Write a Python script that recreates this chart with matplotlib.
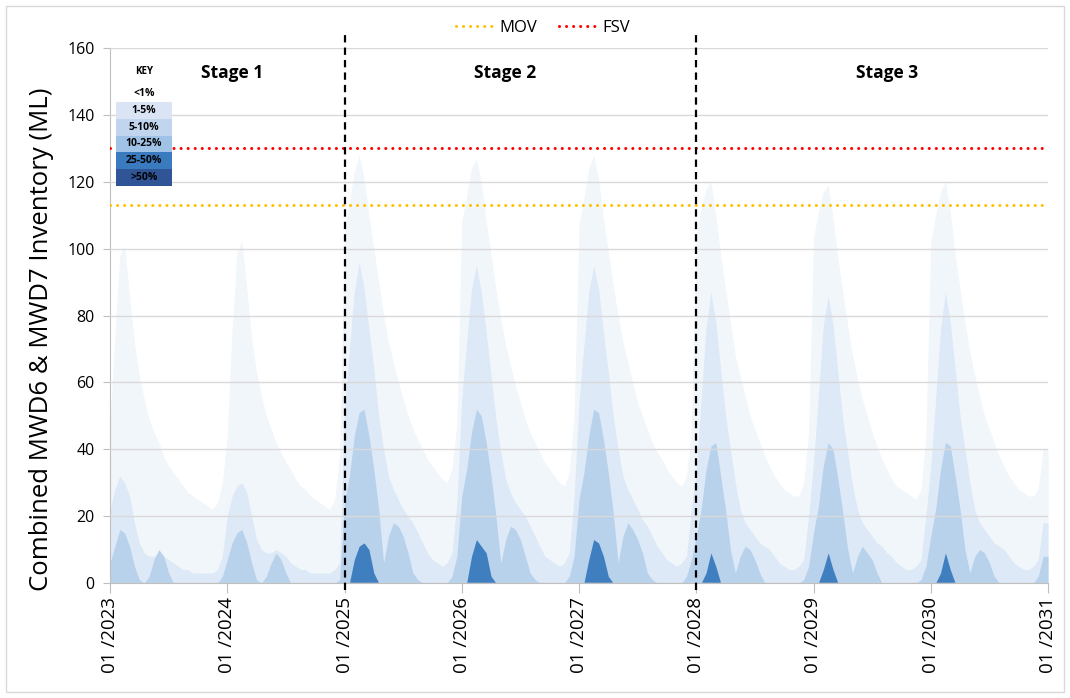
import numpy as np
import matplotlib
matplotlib.use("Agg")
import matplotlib.pyplot as plt
from matplotlib.patches import Rectangle

plt.rcParams['font.family'] = ['Open Sans', 'DejaVu Sans']

years = [2023, 2024, 2025, 2026, 2027, 2028, 2029, 2030]
steps = 24  # half-month samples per year

# upper edge of each probability band (ML), one row per year
inv_1_5 = [
    [48, 74, 98, 101, 86, 72, 62, 55, 49, 45, 42, 38, 35, 33, 31, 29, 27, 26, 25, 24, 23, 22, 24, 30],
    [44, 76, 99, 102, 88, 73, 63, 56, 50, 46, 42, 39, 36, 34, 31, 29, 28, 26, 25, 24, 23, 22, 25, 38],
    [105, 114, 123, 128, 121, 110, 100, 90, 80, 72, 66, 60, 55, 50, 46, 43, 40, 37, 35, 33, 31, 30, 34, 48],
    [108, 116, 124, 127, 120, 108, 98, 88, 79, 71, 65, 59, 54, 49, 45, 42, 39, 36, 34, 32, 30, 29, 33, 50],
    [107, 115, 124, 128, 121, 109, 99, 89, 80, 72, 66, 60, 54, 50, 46, 42, 39, 37, 34, 32, 30, 29, 32, 46],
    [104, 112, 118, 120, 110, 98, 88, 78, 68, 62, 56, 50, 46, 42, 38, 35, 32, 30, 28, 27, 26, 26, 30, 45],
    [103, 111, 117, 119, 109, 97, 87, 77, 68, 61, 55, 50, 45, 41, 37, 34, 31, 29, 28, 27, 26, 25, 28, 44],
    [102, 110, 117, 120, 111, 98, 88, 78, 69, 62, 56, 50, 46, 42, 38, 35, 32, 30, 28, 27, 26, 26, 28, 40],
]
inv_5_10 = [
    [22, 28, 32, 30, 26, 18, 12, 9, 8, 8, 9, 8, 7, 6, 5, 4, 4, 3, 3, 3, 3, 3, 4, 8],
    [20, 26, 29, 30, 27, 20, 13, 10, 9, 9, 10, 9, 8, 6, 5, 4, 4, 3, 3, 3, 3, 3, 4, 6],
    [52, 70, 87, 96, 88, 76, 64, 50, 40, 32, 28, 25, 22, 20, 18, 15, 12, 9, 7, 6, 5, 6, 9, 24],
    [55, 72, 88, 95, 87, 75, 62, 49, 39, 31, 27, 24, 22, 20, 17, 14, 11, 8, 7, 6, 5, 6, 9, 26],
    [54, 71, 87, 95, 88, 75, 63, 50, 40, 32, 28, 25, 22, 19, 17, 14, 11, 9, 7, 6, 5, 6, 8, 22],
    [34, 55, 76, 87, 78, 64, 50, 40, 30, 22, 18, 16, 14, 12, 11, 10, 8, 6, 5, 4, 4, 5, 7, 20],
    [36, 56, 77, 86, 77, 63, 49, 39, 29, 22, 18, 16, 14, 12, 11, 9, 8, 6, 5, 4, 4, 5, 7, 20],
    [35, 55, 76, 87, 78, 64, 50, 40, 30, 22, 18, 16, 14, 12, 11, 10, 8, 6, 5, 4, 4, 5, 7, 18],
]
inv_10_25 = [
    [6, 11, 16, 15, 11, 5, 1, 0, 2, 7, 10, 8, 3, 0, 0, 0, 0, 0, 0, 0, 0, 0, 0, 2],
    [7, 12, 15, 16, 12, 6, 1, 0, 2, 6, 9, 7, 3, 0, 0, 0, 0, 0, 0, 0, 0, 0, 0, 1],
    [24, 32, 44, 51, 52, 44, 34, 22, 6, 14, 18, 17, 14, 9, 3, 1, 0, 0, 0, 0, 0, 0, 2, 8],
    [26, 34, 45, 52, 50, 42, 32, 20, 6, 13, 17, 16, 13, 8, 3, 1, 0, 0, 0, 0, 0, 0, 2, 8],
    [25, 33, 44, 52, 51, 43, 33, 21, 6, 14, 18, 16, 13, 9, 3, 1, 0, 0, 0, 0, 0, 0, 2, 7],
    [14, 22, 34, 41, 42, 32, 22, 10, 3, 8, 11, 10, 7, 3, 0, 0, 0, 0, 0, 0, 0, 0, 1, 5],
    [15, 23, 35, 42, 40, 31, 21, 10, 3, 8, 11, 9, 7, 3, 0, 0, 0, 0, 0, 0, 0, 0, 1, 5],
    [14, 22, 34, 42, 41, 32, 22, 10, 3, 8, 10, 9, 6, 2, 0, 0, 0, 0, 0, 0, 0, 0, 2, 8],
]
inv_25_50 = [
    [0] * 24,
    [0] * 24,
    [0, 0, 7, 11, 12, 10, 3, 0, 0, 0, 0, 0, 0, 0, 0, 0, 0, 0, 0, 0, 0, 0, 0, 0],
    [0, 0, 8, 13, 11, 9, 2, 0, 0, 0, 0, 0, 0, 0, 0, 0, 0, 0, 0, 0, 0, 0, 0, 0],
    [0, 0, 7, 13, 12, 8, 2, 0, 0, 0, 0, 0, 0, 0, 0, 0, 0, 0, 0, 0, 0, 0, 0, 0],
    [0, 0, 3, 9, 5, 0, 0, 0, 0, 0, 0, 0, 0, 0, 0, 0, 0, 0, 0, 0, 0, 0, 0, 0],
    [0, 0, 4, 9, 4, 0, 0, 0, 0, 0, 0, 0, 0, 0, 0, 0, 0, 0, 0, 0, 0, 0, 0, 0],
    [0, 0, 3, 9, 4, 0, 0, 0, 0, 0, 0, 0, 0, 0, 0, 0, 0, 0, 0, 0, 0, 0, 0, 0],
]
band_colors = ['#f1f6fb', '#dde9f6', '#b8d2ec', '#3f7fbf']

mov = 113
fsv = 130
stage_starts = [2025, 2028]
stage_names = ['Stage 1', 'Stage 2', 'Stage 3']
stage_x = [2024.04, 2026.37, 2029.63]

key_labels = ['1-5%', '5-10%', '10-25%', '25-50%', '>50%']
key_colors = ['#dbe4f4', '#c1d6ee', '#a0c2e6', '#3a7bc0', '#2f5597']


def series(rows):
    t = []
    v = []
    for y, row in zip(years, rows):
        for k, val in enumerate(row):
            t.append(y + k / steps)
            v.append(val)
    t.append(years[-1] + 1)
    v.append(rows[-1][-1])
    return np.array(t), np.array(v)


fig = plt.figure(figsize=(10.7, 6.98), dpi=100)
ax = fig.add_axes([110 / 1070, 1 - 583 / 698, 938 / 1070, 535 / 698])

for rows, c in zip([inv_1_5, inv_5_10, inv_10_25, inv_25_50], band_colors):
    t, v = series(rows)
    ax.fill_between(t, 0, v, color=c, lw=0, zorder=1)

ax.axhline(mov, color='#ffc000', lw=2.2, ls=(0, (0.01, 2.3)),
           dash_capstyle='round', zorder=3, label='MOV')
ax.axhline(fsv, color='#ff0000', lw=2.2, ls=(0, (0.01, 2.3)),
           dash_capstyle='round', zorder=3, label='FSV')

for s in stage_starts:
    ax.plot([s, s], [-2.1, 164.5], color='black', lw=1.6,
            ls=(0, (3.3, 2.3)), clip_on=False, zorder=4)

for name, x in zip(stage_names, stage_x):
    ax.text(x, 152.5, name, ha='center', va='center', fontsize=12.5,
            fontweight='bold')

ax.set_xlim(2023, 2031)
ax.set_ylim(0, 160)
ax.set_yticks(range(0, 161, 20))
xt = years + [2031]
ax.set_xticks(xt)
ax.set_xticklabels(['01 /%d' % y for y in xt], rotation=90, fontsize=13.5)
ax.tick_params(axis='y', labelsize=11.5, length=5, color='#bfbfbf', pad=6)
ax.tick_params(axis='x', length=7, color='#bfbfbf', pad=3)
ax.set_axisbelow(False)
ax.grid(axis='y', color='#d9d9d9', lw=1)
ax.grid(axis='x', visible=False)
for sp in ['top', 'right']:
    ax.spines[sp].set_visible(False)
for sp in ['left', 'bottom']:
    ax.spines[sp].set_color('#bfbfbf')
ax.set_ylabel('Combined MWD6 & MWD7 Inventory (ML)', fontsize=18.5)
ax.yaxis.set_label_coords(-0.060, 0.455)

fig.legend(*ax.get_legend_handles_labels(), loc='center',
           bbox_to_anchor=(543 / 1070, 1 - 28 / 698), ncol=2, frameon=False,
           fontsize=12, handlelength=2.4, columnspacing=1.3, handletextpad=0.2)

# key
kax = fig.add_axes([116 / 1070, 1 - 186 / 698, 56 / 1070, 126 / 698])
kax.set_xlim(0, 1)
kax.set_ylim(126, 0)
kax.axis('off')
kax.text(0.5, 12, 'KEY', ha='center', va='center', fontsize=7, fontweight='bold')
kax.text(0.5, 34, '<1%', ha='center', va='center', fontsize=7.5, fontweight='bold')
rows_y = [42 + 16.8 * i + 8.4 for i in range(len(key_labels))]
kax.barh(rows_y, 1, height=16.8, left=0, color=key_colors, lw=0)
for y, lab in zip(rows_y, key_labels):
    kax.text(0.5, y, lab, ha='center', va='center', fontsize=7.5, fontweight='bold')

fig.patches.append(Rectangle((6 / 1070, 6 / 698), 1058 / 1070, 686 / 698,
                             transform=fig.transFigure, fill=False,
                             edgecolor='#d9d9d9', lw=1))

fig.savefig('out.png', dpi=100)
